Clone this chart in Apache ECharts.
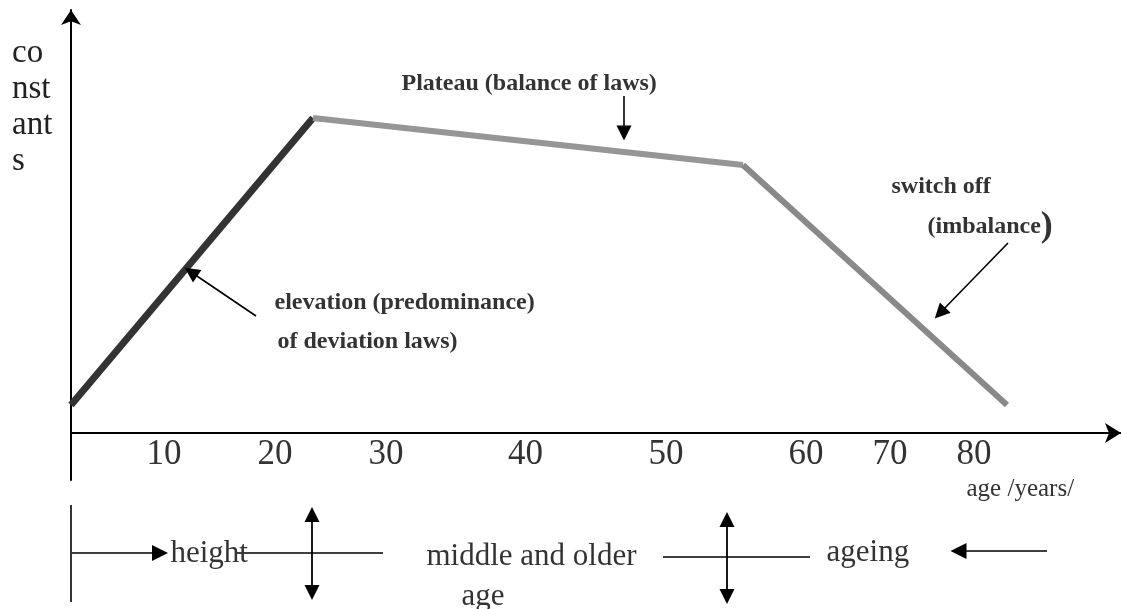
<!DOCTYPE html>
<html><head><meta charset="utf-8">
<script src="https://cdn.jsdelivr.net/npm/echarts@6/dist/echarts.min.js"></script>
<style>html,body{margin:0;padding:0;background:#fff}#c{width:1121px;height:609px}</style>
</head><body><div id="c"></div>
<script>
// ---- data (x and y in the diagram's own axis units; y = 0 on the age axis) ----
const tickLabels = ['10', '20', '30', '40', '50', '60', '70', '80'];
const tickPos    = [93, 204, 315, 454.5, 595, 735, 819, 903];
const curveX = [0, 242, 672, 936];
const curveY = [28, 315, 268, 28];
const yAxisName = ['co', 'nst', 'ant', 's'];
const xAxisName = 'age /years/';

// annotations on the chart: [text, x, y]
const boldNotes = [
  ['Plateau (balance of laws)', 331, 349],
  ['switch off', 821, 246],
  ['{b|(imbalance}{p|)}', 857, 206],
  ['elevation (predominance)', 204, 130],
  ['of deviation laws)', 207, 91]
];
// pointer arrows: [x1, y1, x2, y2]
const pointerArrows = [
  [553, 337, 553, 300],
  [185, 117, 120, 161],
  [937, 190, 869, 120]
];
// stage band under the axis
const stageNotes = [
  ['height', 100, -121],
  ['middle and older', 356, -124],
  ['age', 391, -164],
  ['ageing', 756, -120]
];
const stageLines = [
  [0, -72, 0, -169],
  [166, -120, 312, -120],
  [592, -124, 739, -124]
];
const stageArrows = [
  [1, -120, 89, -120],
  [976, -118, 887.5, -118]
];
const stageDoubleArrows = [
  [241, -81.5, 241, -159.5],
  [656, -86.5, 656, -163.5]
];

const SERIF = "'Liberation Serif','Times New Roman',serif";
const chart = echarts.init(document.getElementById('c'), null, {renderer: 'canvas'});

function seg(i) { return [[curveX[i], curveY[i]], [curveX[i + 1], curveY[i + 1]]]; }
function toLines(arr) { return arr.map(a => ({coords: [[a[0], a[1]], [a[2], a[3]]]})); }
function textSeries(arr, xi, style) {
  return {
    type: 'scatter', xAxisIndex: xi, yAxisIndex: xi, silent: true, symbolSize: 1,
    itemStyle: {color: 'rgba(0,0,0,0)', opacity: 1},
    data: arr.map(n => ({name: n[0], value: [n[1], n[2]]})),
    label: Object.assign({
      show: true, position: [0, 0], align: 'left', verticalAlign: 'middle', opacity: 1,
      formatter: p => p.name, fontFamily: SERIF, color: '#333'
    }, style),
    z: 5
  };
}
const lineBase = {type: 'lines', coordinateSystem: 'cartesian2d', silent: true, clip: false, z: 4};

const option = {
  animation: false,
  backgroundColor: '#fff',
  grid: [
    {left: 71, right: 0, top: 10, bottom: 129},
    {left: 71, right: 0, top: 480, bottom: 0}
  ],
  xAxis: [
    {
      type: 'value', gridIndex: 0, min: 0, max: 1050,
      splitLine: {show: false}, axisTick: {show: false},
      axisLine: {show: true, onZero: true, symbol: ['none', 'arrow'], symbolSize: [15, 16],
        lineStyle: {color: '#000', width: 2}},
      axisLabel: {
        show: true, customValues: tickPos,
        formatter: v => tickLabels[tickPos.indexOf(v)] || '',
        fontFamily: SERIF, fontSize: 35, lineHeight: 36, color: '#333', margin: -43
      }
    },
    {type: 'value', gridIndex: 1, min: 0, max: 1050, show: false}
  ],
  yAxis: [
    {
      type: 'value', gridIndex: 0, min: -47, max: 423,
      splitLine: {show: false}, axisTick: {show: false}, axisLabel: {show: false},
      axisLine: {show: true, onZero: true, symbol: ['none', 'arrow'], symbolSize: [15, 15],
        lineStyle: {color: '#000', width: 2}}
    },
    {type: 'value', gridIndex: 1, min: -176, max: -47, show: false}
  ],
  graphic: [{
    type: 'text', left: 12, top: 35, silent: true,
    style: {text: yAxisName.join('\n'), font: '33px ' + SERIF, lineHeight: 36, fill: '#222'}
  }],
  series: [
    {type: 'line', xAxisIndex: 0, yAxisIndex: 0, data: seg(0), showSymbol: false, silent: true,
      lineStyle: {color: '#333333', width: 7, cap: 'butt'}, z: 2},
    {type: 'line', xAxisIndex: 0, yAxisIndex: 0, data: seg(1), showSymbol: false, silent: true,
      lineStyle: {color: '#969696', width: 6, cap: 'butt'}, z: 3},
    {type: 'line', xAxisIndex: 0, yAxisIndex: 0, data: seg(2), showSymbol: false, silent: true,
      lineStyle: {color: '#898989', width: 6, cap: 'butt'}, z: 3},
    textSeries(boldNotes, 0, {
      fontSize: 24, fontWeight: 'bold',
      rich: {
        b: {fontFamily: SERIF, fontSize: 24, fontWeight: 'bold', color: '#333', verticalAlign: 'middle'},
        p: {fontFamily: SERIF, fontSize: 36, color: '#333', verticalAlign: 'middle'}
      }
    }),
    Object.assign({}, lineBase, {
      xAxisIndex: 0, yAxisIndex: 0, symbol: ['none', 'triangle'], symbolSize: 15,
      lineStyle: {color: '#000', width: 1.6, opacity: 1}, data: toLines(pointerArrows)
    }),
    textSeries([[xAxisName, 896, -57]], 1, {fontSize: 25}),
    textSeries(stageNotes, 1, {fontSize: 31}),
    Object.assign({}, lineBase, {
      xAxisIndex: 1, yAxisIndex: 1, symbol: ['none', 'none'],
      lineStyle: {color: '#000', width: 1.6, opacity: 1}, data: toLines(stageLines)
    }),
    Object.assign({}, lineBase, {
      xAxisIndex: 1, yAxisIndex: 1, symbol: ['none', 'triangle'], symbolSize: 16,
      lineStyle: {color: '#000', width: 1.6, opacity: 1}, data: toLines(stageArrows)
    }),
    Object.assign({}, lineBase, {
      xAxisIndex: 1, yAxisIndex: 1, symbol: ['triangle', 'triangle'], symbolSize: 15,
      lineStyle: {color: '#000', width: 1.8, opacity: 1}, data: toLines(stageDoubleArrows)
    })
  ]
};
chart.setOption(option);
</script>
</body></html>
